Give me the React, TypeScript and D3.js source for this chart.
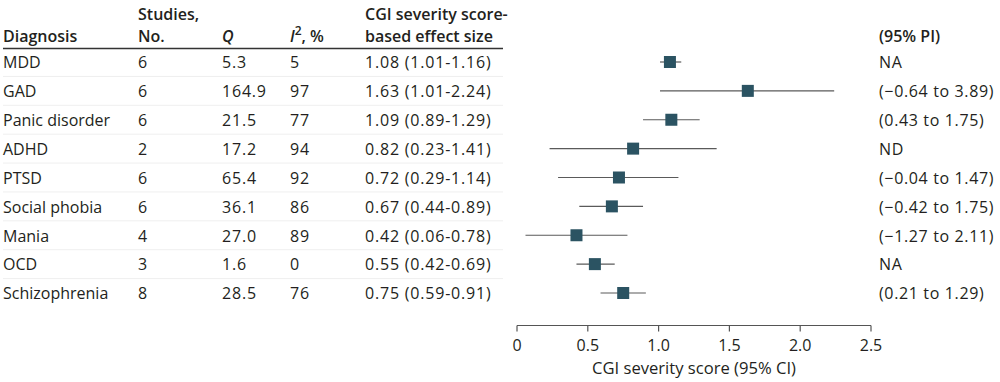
import React from "react";
import * as d3 from "d3";

const diagnoses = ["MDD", "GAD", "Panic disorder", "ADHD", "PTSD", "Social phobia", "Mania", "OCD", "Schizophrenia"];
const studies = [6, 6, 6, 2, 6, 6, 4, 3, 8];
const qValues = ["5.3", "164.9", "21.5", "17.2", "65.4", "36.1", "27.0", "1.6", "28.5"];
const i2Values = [5, 97, 77, 94, 92, 86, 89, 0, 76];
const effect = [1.08, 1.63, 1.09, 0.82, 0.72, 0.67, 0.42, 0.55, 0.75];
const ciLow = [1.01, 1.01, 0.89, 0.23, 0.29, 0.44, 0.06, 0.42, 0.59];
const ciHigh = [1.16, 2.24, 1.29, 1.41, 1.14, 0.89, 0.78, 0.69, 0.91];
const piLabels = ["NA", "(−0.64 to 3.89)", "(0.43 to 1.75)", "ND", "(−0.04 to 1.47)", "(−0.42 to 1.75)", "(−1.27 to 2.11)", "NA", "(0.21 to 1.29)"];
const xTicks = [0, 0.5, 1.0, 1.5, 2.0, 2.5];

const FONT = "'Open Sans', Lato, sans-serif";
const TEXT = "#231f20";

export default function App() {
  const W = 1000, H = 382;
  const x = d3.scaleLinear().domain([0, 2.5]).range([517, 871]);
  const y = d3.scalePoint<number>().domain(d3.range(diagnoses.length)).range([62, 293]);
  const step = y.step();
  const axisY = 325.5;
  const fmt = d3.format(".2f");
  const tickFmt = (v: number) => (v === 0 ? "0" : d3.format(".1f")(v));
  const sq = 12;
  const fs = 16;
  const numLS = 0.8;
  const cols = { diag: 3, studies: 138, q: 222, i2: 290, es: 365, pi: 879 };

  return (
    <svg width={W} height={H} style={{ position: "absolute", left: 0, top: 0, display: "block" }} fontFamily={FONT}>
      <rect width={W} height={H} fill="#fff" />
      {/* headers */}
      <g fill={TEXT} fontSize={fs} fontWeight={600}>
        <text x={cols.diag} y={42}>Diagnosis</text>
        <text x={cols.studies} y={20}>Studies,</text>
        <text x={cols.studies} y={42}>No.</text>
        <text x={cols.q} y={42} fontStyle="italic">Q</text>
        <text x={cols.i2} y={42}>
          <tspan fontStyle="italic">I</tspan>
          <tspan fontSize={12} dy={-7}>2</tspan>
          <tspan dy={7}>, %</tspan>
        </text>
        <text x={cols.es} y={20}>CGI severity score-</text>
        <text x={cols.es} y={42}>based effect size</text>
        <text x={cols.pi} y={42}>(95% PI)</text>
      </g>
      <line x1={3} x2={503} y1={48.5} y2={48.5} stroke="#333" strokeWidth={1.5} />
      {/* row separators */}
      {diagnoses.slice(0, -1).map((d, i) => (
        <line key={"sep" + d} x1={3} x2={503} y1={(y(i) as number) + step / 2} y2={(y(i) as number) + step / 2} stroke="#efefef" strokeWidth={1} />
      ))}
      {/* rows */}
      <g fill={TEXT} fontSize={fs}>
        {diagnoses.map((d, i) => {
          const yy = (y(i) as number) + 6.3;
          return (
            <g key={d}>
              <text x={cols.diag} y={yy}>{d}</text>
              <text x={cols.studies} y={yy} letterSpacing={numLS}>{studies[i]}</text>
              <text x={cols.q} y={yy} letterSpacing={numLS}>{qValues[i]}</text>
              <text x={cols.i2} y={yy} letterSpacing={numLS}>{i2Values[i]}</text>
              <text x={cols.es} y={yy} letterSpacing={numLS}>{`${fmt(effect[i])} (${fmt(ciLow[i])}-${fmt(ciHigh[i])})`}</text>
              <text x={cols.pi} y={yy} letterSpacing={numLS * 0.8}>{piLabels[i]}</text>
            </g>
          );
        })}
      </g>
      {/* forest marks */}
      <g>
        {diagnoses.map((d, i) => {
          const yy = y(i) as number;
          return (
            <g key={d}>
              <line x1={x(ciLow[i])} x2={x(ciHigh[i])} y1={yy} y2={yy} stroke="#5a5a5a" strokeWidth={1.2} />
              <rect x={x(effect[i]) - sq / 2} y={yy - sq / 2} width={sq} height={sq} fill="#2b5362" />
            </g>
          );
        })}
      </g>
      {/* axis */}
      <g>
        <line x1={x(0)} x2={x(2.5)} y1={axisY} y2={axisY} stroke="#555" strokeWidth={1.2} />
        {xTicks.map((t) => (
          <g key={t}>
            <line x1={x(t)} x2={x(t)} y1={axisY} y2={axisY + 6} stroke="#555" strokeWidth={1.2} />
            <text x={x(t)} y={350.5} textAnchor="middle" fontSize={16} fill={TEXT}>{tickFmt(t)}</text>
          </g>
        ))}
        <text x={(x(0) + x(2.5)) / 2} y={374} textAnchor="middle" fontSize={16.6} fill={TEXT}>CGI severity score (95% CI)</text>
      </g>
    </svg>
  );
}
